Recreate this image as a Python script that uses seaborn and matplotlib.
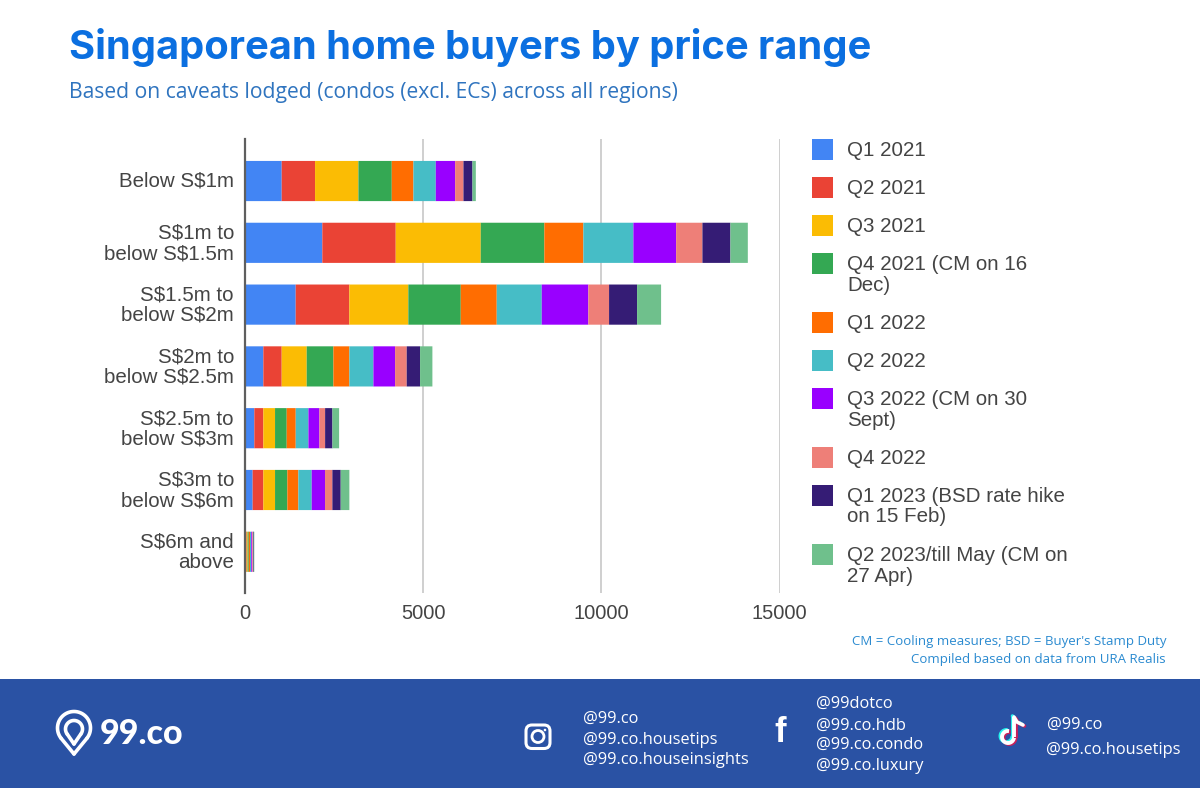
import matplotlib
matplotlib.use("Agg")
import matplotlib.pyplot as plt
from matplotlib.patches import Rectangle, FancyBboxPatch, Circle, Arc
from matplotlib.transforms import ScaledTranslation
import numpy as np
import seaborn as sns

categories = ["Below S$1m", "S$1m to\nbelow S$1.5m", "S$1.5m to\nbelow S$2m", "S$2m to\nbelow S$2.5m",
              "S$2.5m to\nbelow S$3m", "S$3m to\nbelow S$6m", "S$6m and\nabove"]
q1_2021 = [1030, 2170, 1423, 515, 262, 215, 20]
q2_2021 = [936, 2060, 1505, 515, 253, 300, 25]
q3_2021 = [1217, 2386, 1656, 702, 328, 328, 30]
q4_2021 = [936, 1785, 1471, 749, 328, 346, 30]
q1_2022 = [608, 1095, 1010, 449, 253, 309, 35]
q2_2022 = [627, 1404, 1263, 674, 356, 374, 35]
q3_2022 = [543, 1199, 1308, 608, 309, 374, 30]
q4_2022 = [234, 738, 581, 327, 159, 206, 20]
q1_2023 = [253, 786, 786, 374, 206, 234, 20]
q2_2023 = [94, 488, 674, 346, 187, 243, 15]
series = [q1_2021, q2_2021, q3_2021, q4_2021, q1_2022, q2_2022, q3_2022, q4_2022, q1_2023, q2_2023]
legend_labels = ["Q1 2021", "Q2 2021", "Q3 2021", "Q4 2021 (CM on 16\nDec)", "Q1 2022", "Q2 2022",
                 "Q3 2022 (CM on 30\nSept)", "Q4 2022", "Q1 2023 (BSD rate hike\non 15 Feb)",
                 "Q2 2023/till May (CM on\n27 Apr)"]
colors = ["#4285f4", "#ea4335", "#fbbc04", "#34a853", "#ff6d01", "#46bdc6", "#9900ff", "#ee7f78", "#351c75", "#6fc08c"]
legend_y = [149, 187, 225, 263, 322, 360, 398, 457, 495, 554]
x_ticks = [0, 5000, 10000, 15000]

sns.set_theme(style="white")
plt.rcParams["font.family"] = ["Liberation Sans", "DejaVu Sans"]
W, H = 1200, 788
fig = plt.figure(figsize=(W / 100, H / 100), dpi=100, facecolor="white")

ov = fig.add_axes([0, 0, 1, 1], zorder=3)
ov.set_xlim(0, W); ov.set_ylim(H, 0); ov.axis("off"); ov.patch.set_alpha(0)

ax = fig.add_axes([245 / W, 1 - 593 / H, 534.5 / W, 454 / H], zorder=2)
left = np.zeros(len(categories))
for vals, c in zip(series, colors):
    sns.barplot(x=vals, y=categories, color=c, left=left, width=0.65, saturation=1, orient="h",
                linewidth=0, ax=ax, zorder=3)
    left = left + np.array(vals)
for p in ax.patches:
    p.set_snap(False)
ax.set_xlim(0, 15000)
ax.set_ylim(6.667, -0.68)
ax.set_xticks(x_ticks)
ax.set_xlabel(""); ax.set_ylabel("")
ax.xaxis.grid(True, color="#cccccc", lw=1.3, zorder=0)
ax.yaxis.grid(False)
ax.set_axisbelow(True)
for s in ["top", "right", "bottom"]:
    ax.spines[s].set_visible(False)
ax.spines["left"].set_color("#5f5f5f"); ax.spines["left"].set_linewidth(1.6)
ax.spines["left"].set_zorder(5)
ax.tick_params(axis="x", length=0, pad=8, labelsize=14.5, labelcolor="#444444")
ax.tick_params(axis="y", length=0, pad=8, labelsize=14.8, labelcolor="#444444")
shift = ScaledTranslation(0, 2 / 100, fig.dpi_scale_trans)
for t in ax.get_yticklabels():
    t.set_linespacing(1.08); t.set_ha("right")
    t.set_transform(t.get_transform() + shift)
ax.patch.set_alpha(0)

for lab, c, y in zip(legend_labels, colors, legend_y):
    ov.add_patch(Rectangle((812, y - 10), 21, 21, color=c, lw=0))
    ov.text(847, y - 8, lab, fontsize=14.8, color="#444444", va="top", ha="left", linespacing=1.1)

ov.text(69, 47, "Singaporean home buyers by price range", fontsize=28.7, color="#0b6fe0",
        family="Inter", weight="bold", va="center", ha="left")
ov.text(69, 92.5, "Based on caveats lodged (condos (excl. ECs) across all regions)", fontsize=15.2,
        color="#2f74bf", family="Open Sans", va="center", ha="left")
ov.text(1166, 642, "CM = Cooling measures; BSD = Buyer's Stamp Duty", fontsize=9.5, color="#2a8ad0",
        family="Open Sans", va="center", ha="right")
ov.text(1166, 660, "Compiled based on data from URA Realis", fontsize=9.5, color="#2a8ad0",
        family="Open Sans", va="center", ha="right")

band = "#2a52a4"
ov.add_patch(Rectangle((0, 679), W, 109, color=band, lw=0))

def pin(cx, cy, r, tip, lw):
    a = np.deg2rad(np.linspace(-38, 218, 60))
    xs = cx + r * np.cos(a); ys = cy - r * np.sin(a)
    ov.plot([cx, xs[0]], [tip, ys[0]], color="white", lw=lw, solid_capstyle="round")
    ov.plot(xs, ys, color="white", lw=lw)
    ov.plot([xs[-1], cx], [ys[-1], tip], color="white", lw=lw, solid_capstyle="round")

pin(74, 728, 16.5, 754, 2.6)
pin(74, 729, 8.5, 744, 2.6)
ov.add_patch(Rectangle((72.5, 709), 3, 5, color=band, lw=0))
ov.text(100, 734, "99.co", fontsize=24.5, color="white", family="Lato", weight="black", va="center", ha="left")

foot = dict(fontsize=11.8, color="white", family="Open Sans", va="center", ha="left")
for s, x, y in [("@99.co", 583, 719), ("@99.co.housetips", 583, 739.5), ("@99.co.houseinsights", 583, 759.5),
                ("@99dotco", 816, 704), ("@99.co.hdb", 816, 726), ("@99.co.condo", 816, 745), ("@99.co.luxury", 816, 766),
                ("@99.co", 1047, 725), ("@99.co.housetips", 1046, 750)]:
    ov.text(x, y, s, **foot)

ov.add_patch(FancyBboxPatch((526, 725), 24, 23.5, boxstyle="round,pad=0,rounding_size=6", fc="none", ec="white", lw=2.2))
ov.add_patch(Circle((538, 736.5), 6, fc="none", ec="white", lw=2))
ov.add_patch(Circle((545, 730), 1.3, color="white", lw=0))
ov.text(780, 732, "f", fontsize=25, color="white", family="Liberation Sans", weight="bold", va="center", ha="center")
for dx, dy, c in [(-1.5, -1, "#25f4ee"), (1.5, 1, "#c8205a"), (0, 0, "white")]:
    ov.plot([1014 + dx, 1014 + dx], [717 + dy, 737 + dy], color=c, lw=2.8, solid_capstyle="butt")
    ov.plot([1014 + dx, 1017 + dx, 1023 + dx], [717 + dy, 722 + dy, 725 + dy], color=c, lw=2.6)
    ov.add_patch(Arc((1008 + dx, 737 + dy), 12, 12, theta1=0, theta2=280, color=c, lw=2.8))

fig.savefig("out.png", dpi=100)
